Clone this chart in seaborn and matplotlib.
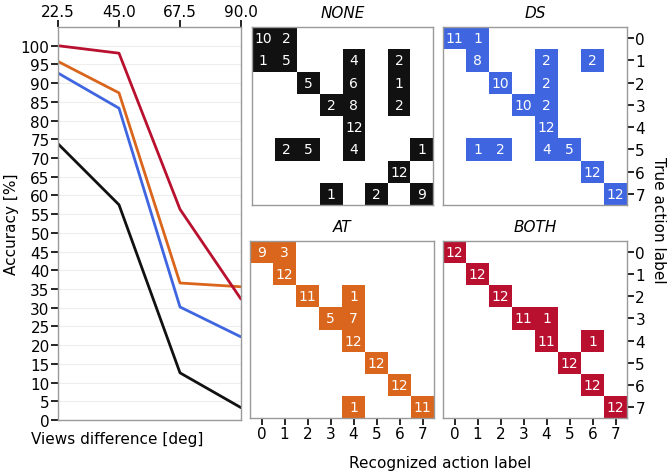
import numpy as np
import pandas as pd
import matplotlib
matplotlib.use("Agg")
import matplotlib.pyplot as plt
from matplotlib.colors import ListedColormap
import seaborn as sns

sns.set_style("white")
plt.rcParams['font.family'] = ['DejaVu Sans']
plt.rcParams['text.color'] = 'black'
plt.rcParams['axes.labelcolor'] = 'black'
plt.rcParams['xtick.color'] = 'black'
plt.rcParams['ytick.color'] = 'black'

# ---- data ----
views = [22.5, 45.0, 67.5, 90.0]
acc_none = [73.8, 57.5, 12.6, 3.3]
acc_ds = [92.7, 83.3, 30.2, 22.2]
acc_at = [95.8, 87.4, 36.6, 35.6]
acc_both = [100.0, 98.0, 56.3, 32.3]

methods = ["NONE", "DS", "AT", "BOTH"]
colors = {"NONE": "#111111", "DS": "#3f66e0", "AT": "#d9661c", "BOTH": "#b8102e"}

labels = list(range(8))

cm_none = [
    [10, 2, 0, 0, 0, 0, 0, 0],
    [1, 5, 0, 0, 4, 0, 2, 0],
    [0, 0, 5, 0, 6, 0, 1, 0],
    [0, 0, 0, 2, 8, 0, 2, 0],
    [0, 0, 0, 0, 12, 0, 0, 0],
    [0, 2, 5, 0, 4, 0, 0, 1],
    [0, 0, 0, 0, 0, 0, 12, 0],
    [0, 0, 0, 1, 0, 2, 0, 9],
]
cm_ds = [
    [11, 1, 0, 0, 0, 0, 0, 0],
    [0, 8, 0, 0, 2, 0, 2, 0],
    [0, 0, 10, 0, 2, 0, 0, 0],
    [0, 0, 0, 10, 2, 0, 0, 0],
    [0, 0, 0, 0, 12, 0, 0, 0],
    [0, 1, 2, 0, 4, 5, 0, 0],
    [0, 0, 0, 0, 0, 0, 12, 0],
    [0, 0, 0, 0, 0, 0, 0, 12],
]
cm_at = [
    [9, 3, 0, 0, 0, 0, 0, 0],
    [0, 12, 0, 0, 0, 0, 0, 0],
    [0, 0, 11, 0, 1, 0, 0, 0],
    [0, 0, 0, 5, 7, 0, 0, 0],
    [0, 0, 0, 0, 12, 0, 0, 0],
    [0, 0, 0, 0, 0, 12, 0, 0],
    [0, 0, 0, 0, 0, 0, 12, 0],
    [0, 0, 0, 0, 1, 0, 0, 11],
]
cm_both = [
    [12, 0, 0, 0, 0, 0, 0, 0],
    [0, 12, 0, 0, 0, 0, 0, 0],
    [0, 0, 12, 0, 0, 0, 0, 0],
    [0, 0, 0, 11, 1, 0, 0, 0],
    [0, 0, 0, 0, 11, 0, 1, 0],
    [0, 0, 0, 0, 0, 12, 0, 0],
    [0, 0, 0, 0, 0, 0, 12, 0],
    [0, 0, 0, 0, 0, 0, 0, 12],
]

W, H = 667, 477
fig = plt.figure(figsize=(W / 100, H / 100), dpi=100)


def rect(x0, x1, y0, y1):
    return [x0 / W, (H - y1) / H, (x1 - x0) / W, (y1 - y0) / H]


FS = 11
FS_T = 11
FS_A = 10
spine_col = "#999999"

# ---- line chart ----
ax = fig.add_axes(rect(58, 241, 28, 421))
df = pd.DataFrame({
    "deg": views * 4,
    "acc": acc_none + acc_ds + acc_at + acc_both,
    "method": sum([[m] * 4 for m in methods], []),
})
sns.lineplot(data=df, x="deg", y="acc", hue="method", palette=colors,
             linewidth=2, legend=False, ax=ax)
ax.set_xlim(22.5, 90)
ax.set_ylim(0, 105)
ax.set_xticks(views)
ax.set_xticklabels([f"{v:.1f}" for v in views])
ax.xaxis.tick_top()
ax.set_yticks(np.arange(0, 101, 5))
ax.set_xlabel("")
ax.set_ylabel("")
ax.tick_params(axis="both", labelsize=FS, length=5, width=1.2, color="black",
               pad=1, top=True, left=True, bottom=False)
ax.grid(axis="y", color="#eeeeee", linewidth=0.8)
for s in ax.spines.values():
    s.set_color(spine_col)
    s.set_linewidth(1)
fig.text(117 / W, 1 - 440 / H, "Views difference [deg]", ha="center",
         va="center", fontsize=FS)
fig.text(12 / W, 1 - 224 / H, "Accuracy [%]", ha="center",
         va="center", rotation=90, fontsize=FS)

# ---- confusion matrices ----
panels = [
    ("NONE", cm_none, rect(252, 433, 28, 206), False, False),
    ("DS", cm_ds, rect(443, 627, 28, 206), False, True),
    ("AT", cm_at, rect(250, 434, 242, 419), True, False),
    ("BOTH", cm_both, rect(443, 627, 242, 419), True, True),
]
for name, cm, pos, show_x, show_y in panels:
    a = fig.add_axes(pos)
    arr = np.array(cm)
    cdf = pd.DataFrame(arr, index=labels, columns=labels)
    sns.heatmap(cdf, mask=(arr == 0), cmap=ListedColormap([colors[name]]),
                annot=True, fmt="d", cbar=False, ax=a,
                annot_kws={"color": "white", "fontsize": FS_A},
                vmin=0, vmax=12)
    a.set_title(name, fontsize=FS_T, style="italic", pad=7)
    for s in a.spines.values():
        s.set_visible(True)
        s.set_color(spine_col)
        s.set_linewidth(1)
    if show_x:
        a.set_xticks(np.arange(8) + 0.5)
        a.set_xticklabels(labels, rotation=0)
        a.tick_params(axis="x", bottom=True, length=5, width=1.2,
                      labelsize=FS, pad=1)
    else:
        a.set_xticks([])
    if show_y:
        a.yaxis.tick_right()
        a.set_yticks(np.arange(8) + 0.5)
        a.set_yticklabels(labels, rotation=0)
        a.tick_params(axis="y", right=True, left=False, length=5, width=1.2,
                      labelsize=FS, pad=1)
    else:
        a.set_yticks([])
    a.set_xlabel("")
    a.set_ylabel("")

fig.text(440 / W, 1 - 464 / H, "Recognized action label", ha="center",
         va="center", fontsize=FS)
fig.text(658 / W, 1 - 220 / H, "True action label", ha="center",
         va="center", rotation=270, fontsize=FS)

fig.savefig("out.png", dpi=100)
